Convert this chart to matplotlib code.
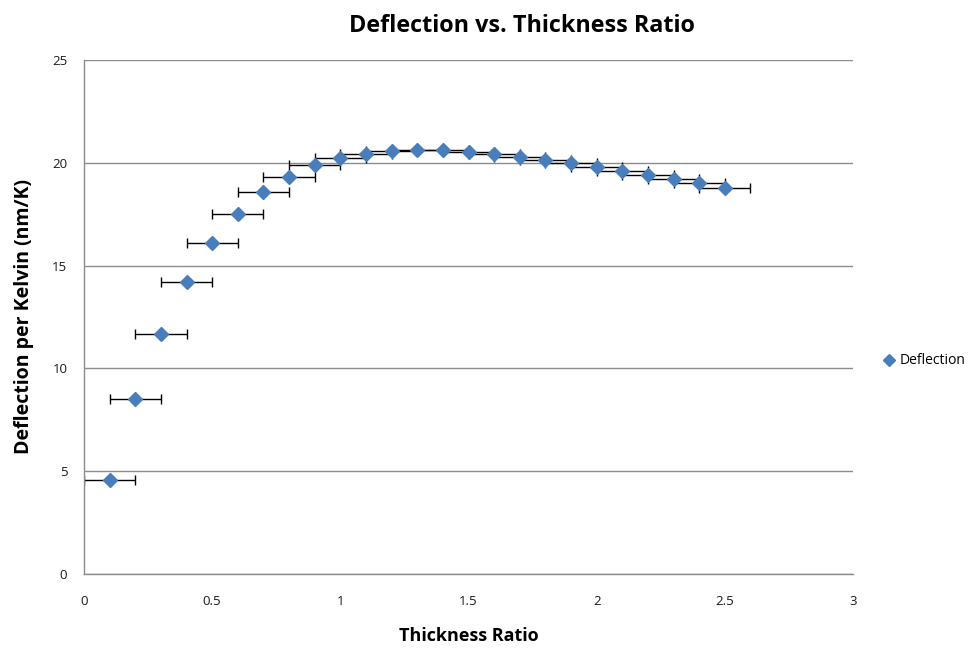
import matplotlib
matplotlib.use("Agg")
import matplotlib.pyplot as plt
import numpy as np

# Thickness ratio samples and measured deflection per kelvin
ratio = [0.1, 0.2, 0.3, 0.4, 0.5, 0.6, 0.7, 0.8, 0.9, 1.0, 1.1, 1.2, 1.3,
         1.4, 1.5, 1.6, 1.7, 1.8, 1.9, 2.0, 2.1, 2.2, 2.3, 2.4, 2.5]
deflection = [4.56, 8.50, 11.68, 14.20, 16.10, 17.52, 18.57, 19.33, 19.87,
              20.24, 20.45, 20.58, 20.63, 20.60, 20.52, 20.42, 20.29, 20.15,
              19.97, 19.79, 19.59, 19.40, 19.20, 19.00, 18.79]
ratio_err = [0.1] * len(ratio)

x_ticks = [0, 0.5, 1, 1.5, 2, 2.5, 3]
x_tick_labels = ["0", "0.5", "1", "1.5", "2", "2.5", "3"]
y_ticks = [0, 5, 10, 15, 20, 25]
y_tick_labels = ["0", "5", "10", "15", "20", "25"]

plt.rcParams['font.family'] = ['Open Sans', 'DejaVu Sans']

fig = plt.figure(figsize=(9.72, 6.55), dpi=100)
ax = fig.add_axes([84 / 972, 81 / 655, 769 / 972, 514 / 655])

grid_color = "#8c8c8c"
ax.set_xlim(0, 3)
ax.set_ylim(0, 25)
ax.set_yticks(y_ticks)
ax.set_yticklabels(y_tick_labels)
ax.set_xticks(x_ticks)
ax.set_xticklabels(x_tick_labels)
ax.yaxis.grid(True, color=grid_color, linewidth=1.0)
ax.set_axisbelow(True)
for side in ("top", "right"):
    ax.spines[side].set_visible(False)
for side in ("left", "bottom"):
    ax.spines[side].set_color(grid_color)
    ax.spines[side].set_linewidth(1.0)
ax.tick_params(axis="both", length=0, labelsize=9.5, labelcolor="#1a1a1a")
ax.tick_params(axis="y", pad=12)
ax.tick_params(axis="x", pad=15)

ax.errorbar(ratio, deflection, xerr=ratio_err, fmt="none", ecolor="black",
            elinewidth=1.0, capsize=3.5, capthick=1.0, zorder=2)
ax.plot(ratio, deflection, linestyle="none", marker="D", markersize=7,
        color="#4a7ebb", markeredgecolor="#4a7ebb", label="Deflection",
        zorder=3, clip_on=False)

fig.text(0.537, 0.96, "Deflection vs. Thickness Ratio", ha="center",
         va="center", fontsize=16.8, fontweight="bold")
ax.set_xlabel("Thickness Ratio", fontsize=13, fontweight="bold", labelpad=14)
ax.set_ylabel("Deflection per Kelvin (nm/K)", fontsize=14, fontweight="bold",
              labelpad=13)

leg = fig.legend(loc="center left", bbox_to_anchor=(0.896, 0.449),
                 frameon=False, fontsize=10, handlelength=0.8,
                 handletextpad=0.35, markerscale=0.85)

fig.savefig("out.png", dpi=100)
